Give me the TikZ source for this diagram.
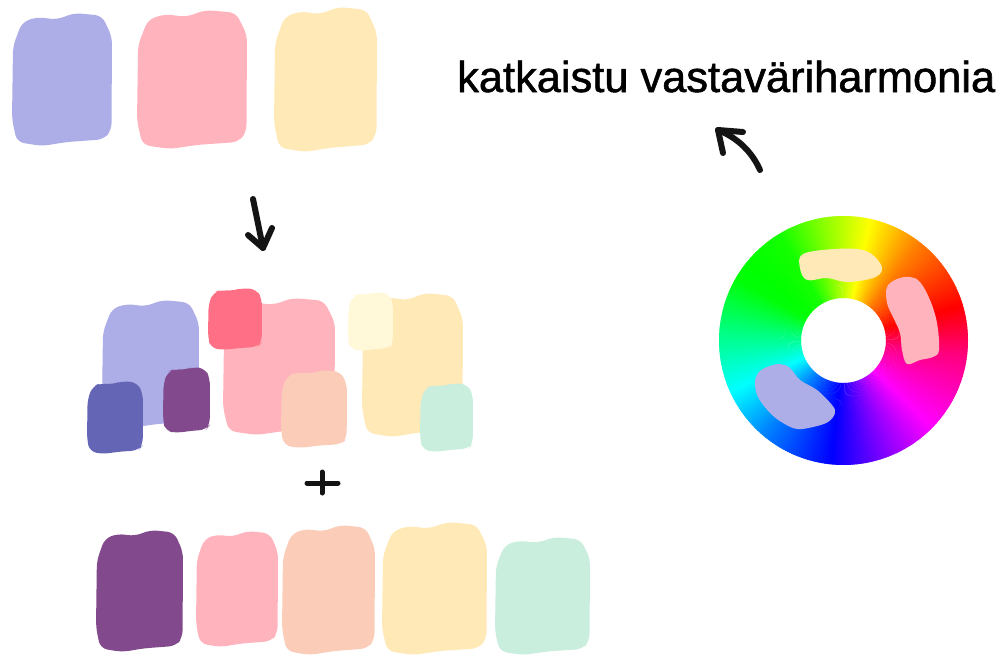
\documentclass[tikz,border=0pt]{standalone}
\usepackage{fontspec}
\usepackage{graphicx}
\newfontfamily\titlefont[AutoFakeBold=1.2]{Liberation Sans}
\definecolor{lav}{HTML}{ADADE8}
\definecolor{pnk}{HTML}{FFB3BD}
\definecolor{crm}{HTML}{FFE9B6}
\definecolor{dblue}{HTML}{6565B5}
\definecolor{purp}{HTML}{824A8C}
\definecolor{coral}{HTML}{FF7086}
\definecolor{peach}{HTML}{FBCDB9}
\definecolor{pyel}{HTML}{FFF8D9}
\definecolor{mint}{HTML}{C9EEDE}
\newcommand\swatch[5]{%
 \pgfmathsetmacro\swW{#4-#2}\pgfmathsetmacro\swH{#5-#3}%
 \fill[#1, rounded corners=7pt] ({#2+0.10*\swW},{#3+0.07*\swH}) -- ({#2+0.25*\swW},{#3+0.03*\swH}) -- ({#2+0.45*\swW},{#3+0.05*\swH}) -- ({#2+0.62*\swW},{#3}) -- ({#2+0.9*\swW},{#3+0.02*\swH}) -- ({#4},{#3+0.18*\swH}) -- ({#4-0.005*\swW},{#5-0.12*\swH}) -- ({#4-0.08*\swW},{#5-0.05*\swH}) -- ({#2+0.55*\swW},{#5-0.03*\swH}) -- ({#2+0.3*\swW},{#5}) -- ({#2+0.05*\swW},{#5-0.03*\swH}) -- ({#2},{#5-0.2*\swH}) -- ({#2+0.01*\swW},{#3+0.25*\swH}) -- cycle;}
\tikzset{ink/.style={line width=6, line cap=round, line join=round, black!92}}
\begin{document}
\begin{tikzpicture}[x=1pt,y=-1pt]
\useasboundingbox (0,0) rectangle (1005,656);
\fill[white] (0,0) rectangle (1005,656);
% top row
\swatch{lav}{12}{13}{112}{146}
\swatch{pnk}{137}{10}{247}{149}
\swatch{crm}{274}{7}{377}{152}
% down arrow
\coordinate (d1) at (253,199);
\coordinate (d2) at (263,248);
\coordinate (d3) at (248,235);
\coordinate (d4) at (272,228);
\draw[ink] (d1) -- (d2);
\draw[ink] (d3) -- (d2) -- (d4);
% middle row
\swatch{lav}{102}{300}{199}{428}
\swatch{dblue}{87}{381}{143}{454}
\swatch{purp}{163}{367}{210}{433}
\swatch{pnk}{223}{298}{335}{435}
\swatch{coral}{208}{288}{262}{350}
\swatch{peach}{281}{370}{347}{448}
\swatch{crm}{362}{293}{463}{437}
\swatch{pyel}{348}{292}{393}{351}
\swatch{mint}{420}{383}{473}{452}
% plus
\coordinate (p1) at (307,483);
\coordinate (p2) at (338,483);
\coordinate (p3) at (322,472);
\coordinate (p4) at (322,493);
\draw[ink, line width=5] (p1) -- (p2);
\draw[ink, line width=5] (p3) -- (p4);
% bottom row
\swatch{purp}{96}{530}{183}{652}
\swatch{pnk}{196}{531}{278}{647}
\swatch{peach}{282}{525}{375}{655}
\swatch{crm}{382}{522}{487}{655}
\swatch{mint}{495}{537}{590}{655}
% title
\node[anchor=base west, inner sep=0] (title) at (457,92) {\resizebox{538pt}{!}{\titlefont\bfseries katkaistu vastaväriharmonia}};
% curved arrow
\coordinate (c1) at (760,170);
\coordinate (c2) at (718,130);
\coordinate (c3) at (743,132);
\coordinate (c4) at (723,153);
\draw[ink] (c1) .. controls (752,152) and (738,138) .. (c2);
\draw[ink] (c3) -- (c2) -- (c4);
% colour wheel
\begin{scope}[shift={(843.5,340.5)}, yscale=-1]
\foreach \aa/\ha/\ab/\hb in {16/0/52/30, 52/30/77/60, 77/60/101/90, 101/90/120/115, 120/115/150/122, 150/122/175/150, 175/150/204/180, 204/180/230/210, 230/210/264/240, 264/240/289/270, 289/270/315/300, 315/300/352/330, 352/330/376/360}{
 \pgfmathtruncatemacro\nn{\ab-\aa-1}
 \foreach \k in {0,...,\nn}{
  \pgfmathsetmacro\ang{\aa+\k}
  \pgfmathsetmacro\hue{mod(\ha+(\hb-\ha)*\k/(\ab-\aa),360)}
  \definecolor{wc}{Hsb}{\hue,1,1}
  \fill[wc] (\ang:124.5) arc[start angle=\ang, end angle=\ang+1.4, radius=124.5] -- ({\ang+1.4}:42.5) arc[start angle=\ang+1.4, end angle=\ang, radius=42.5] -- cycle;
 }
}
\end{scope}
\fill[crm] plot[smooth cycle, tension=0.6] coordinates {(803,254) (835,249) (863,250) (877,259) (882,270) (873,278) (847,282) (827,278) (807,280) (800,268)};
\fill[pnk] plot[smooth cycle, tension=0.6] coordinates {(887,287) (897,279) (910,277) (920,282) (930,300) (937,323) (939,350) (933,357) (920,360) (907,364) (902,350) (900,333) (893,317) (887,303)};
\fill[lav] plot[smooth cycle, tension=0.6] coordinates {(758,373) (767,367) (780,364) (790,368) (800,380) (817,390) (832,405) (835,413) (828,422) (813,427) (797,429) (783,423) (770,413) (758,397) (755,383)};
\end{tikzpicture}
\end{document}
